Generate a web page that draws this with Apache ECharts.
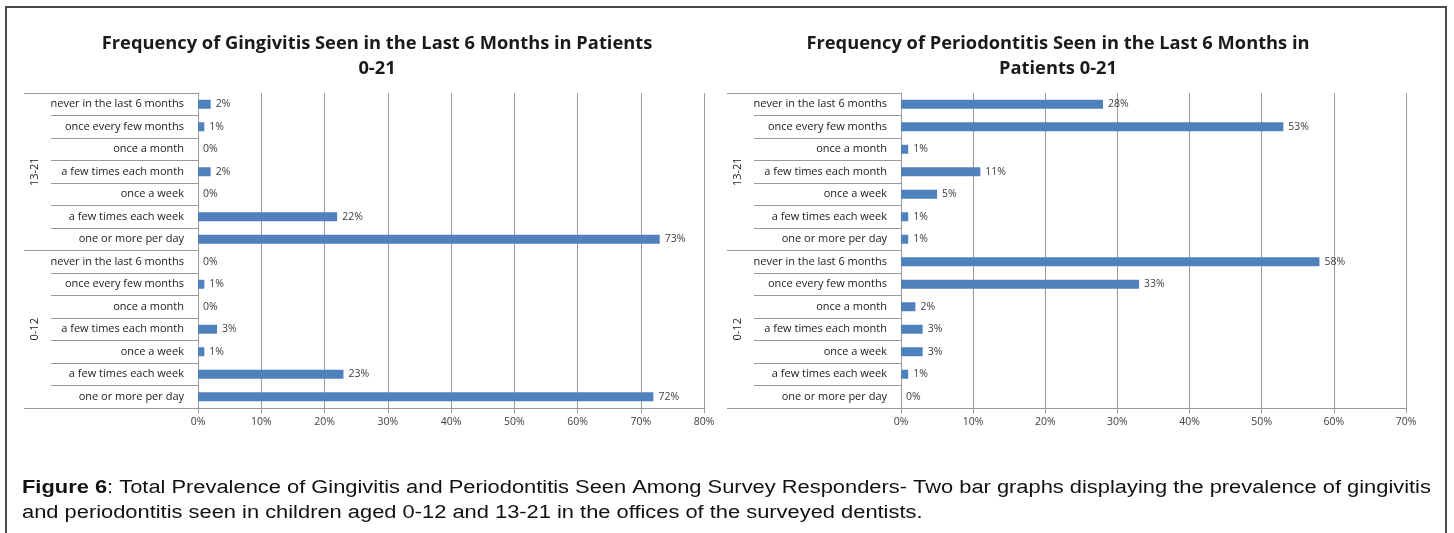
<!DOCTYPE html>
<html>
<head>
<meta charset="utf-8">
<script src="https://cdn.jsdelivr.net/npm/echarts@6/dist/echarts.min.js"></script>
<style>
  html, body { margin: 0; padding: 0; background: #fff; }
  #chart { width: 1454px; height: 533px; }
</style>
</head>
<body>
<div id="chart"></div>
<script>
// frequency buckets, top to bottom inside each age group
const frequencies = [
  'never in the last 6 months',
  'once every few months',
  'once a month',
  'a few times each month',
  'once a week',
  'a few times each week',
  'one or more per day'
]
const ageGroups = ['13-21', '0-12']

// percentages
const gingivitisTeen = [2, 1, 0, 2, 0, 22, 73]
const gingivitisChild = [0, 1, 0, 3, 1, 23, 72]
const periodontitisTeen = [28, 53, 1, 11, 5, 1, 1]
const periodontitisChild = [58, 33, 2, 3, 3, 1, 0]

const categories = frequencies.concat(frequencies)
const labelFont = 'Open Sans'
const barColor = '#4F81BD'
const lineColor = '#9a9a9a'

function valueAxis(gridIndex, max) {
  return {
    type: 'value',
    gridIndex: gridIndex,
    min: 0,
    max: max,
    interval: 10,
    axisLine: { show: true, lineStyle: { color: lineColor } },
    axisTick: { show: true, length: 5, lineStyle: { color: lineColor } },
    splitLine: { show: true, lineStyle: { color: lineColor } },
    axisLabel: { formatter: '{value}%', color: '#404040', fontSize: 10.5, fontFamily: labelFont, margin: 9 }
  }
}

// inner level: 14 frequency rows
function rowAxis(gridIndex) {
  return {
    type: 'category',
    gridIndex: gridIndex,
    data: categories,
    inverse: true,
    position: 'left',
    axisLine: { show: true, lineStyle: { color: lineColor } },
    axisTick: { show: true, length: 147, lineStyle: { color: lineColor } },
    axisLabel: { color: '#1a1a1a', fontSize: 11, fontFamily: labelFont, margin: 14, interval: 0 }
  }
}

// outer level: age groups
function groupAxis(gridIndex) {
  return {
    type: 'category',
    gridIndex: gridIndex,
    data: ageGroups,
    inverse: true,
    position: 'left',
    axisLine: { show: false },
    axisTick: { show: true, length: 174, lineStyle: { color: lineColor } },
    axisLabel: { color: '#1a1a1a', fontSize: 11, fontFamily: labelFont, rotate: 90, margin: 158, interval: 0 }
  }
}

function barSeries(idx, values) {
  return {
    type: 'bar',
    xAxisIndex: idx,
    yAxisIndex: idx * 2,
    data: values,
    barWidth: 9,
    itemStyle: { color: barColor },
    label: {
      show: true,
      position: 'right',
      distance: 5,
      formatter: '{c}%',
      color: '#404040',
      fontSize: 10.5,
      fontFamily: labelFont
    }
  }
}

const chart = echarts.init(document.getElementById('chart'))

chart.setOption({
  animation: false,
  title: [
    {
      text: 'Frequency of Gingivitis Seen in the Last 6 Months in Patients\n0-21',
      left: 372,
      top: 26,
      textAlign: 'center',
      textStyle: { fontFamily: labelFont, fontWeight: 'bold', fontSize: 18.3, color: '#1a1a1a', lineHeight: 25 }
    },
    {
      text: 'Frequency of Periodontitis Seen in the Last 6 Months in\nPatients 0-21',
      left: 1053,
      top: 26,
      textAlign: 'center',
      textStyle: { fontFamily: labelFont, fontWeight: 'bold', fontSize: 18.3, color: '#1a1a1a', lineHeight: 25 }
    }
  ],
  grid: [
    { left: 198, right: 750, top: 93, bottom: 125 },
    { left: 901, right: 48, top: 93, bottom: 125 }
  ],
  xAxis: [valueAxis(0, 80), valueAxis(1, 70)],
  yAxis: [rowAxis(0), groupAxis(0), rowAxis(1), groupAxis(1)],
  series: [
    barSeries(0, gingivitisTeen.concat(gingivitisChild)),
    barSeries(1, periodontitisTeen.concat(periodontitisChild))
  ],
  graphic: [
    {
      type: 'rect',
      shape: { x: 6, y: 7, width: 1440, height: 560 },
      style: { fill: 'none', stroke: '#4a4a4a', lineWidth: 2 },
      silent: true
    },
    {
      // caption is set wide and short in the figure, so stretch it sideways
      type: 'text',
      x: 22,
      y: 476,
      scaleX: 1.215,
      style: {
        text: '{b|Figure 6}: Total Prevalence of Gingivitis and Periodontitis Seen Among Survey Responders- Two bar graphs displaying the prevalence of gingivitis\nand periodontitis seen in children aged 0-12 and 13-21 in the offices of the surveyed dentists.',
        font: '18px "Liberation Sans"',
        fill: '#111',
        lineHeight: 25,
        rich: {
          b: { fontWeight: 'bold', fontSize: 18, fontFamily: 'Liberation Sans', fill: '#111' }
        }
      }
    }
  ]
})
</script>
</body>
</html>
